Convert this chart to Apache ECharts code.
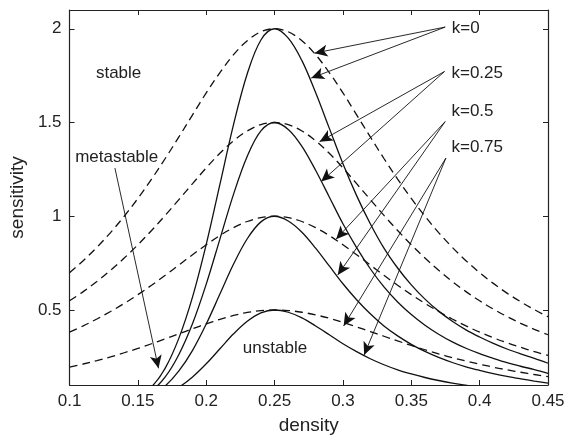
<!DOCTYPE html>
<html>
<head>
<meta charset="utf-8">
<script src="https://cdn.jsdelivr.net/npm/echarts@6/dist/echarts.min.js"></script>
<style>
html,body{margin:0;padding:0;background:#fff;}
#chart{width:578px;height:441px;}
</style>
</head>
<body>
<div id="chart"></div>
<script>
// ---- data ----
var xDashed = [0.10,0.11,0.12,0.13,0.14,0.15,0.16,0.17,0.18,0.19,0.20,0.21,0.22,0.23,0.24,0.25,0.26,0.27,0.28,0.29,0.30,0.31,0.32,0.33,0.34,0.35,0.36,0.37,0.38,0.39,0.40,0.41,0.42,0.43,0.44,0.45];
var dashedK0   = [0.699,0.763,0.834,0.913,1.000,1.095,1.198,1.308,1.423,1.541,1.658,1.766,1.862,1.936,1.984,2.000,1.984,1.936,1.862,1.766,1.658,1.541,1.423,1.308,1.198,1.095,1.000,0.913,0.834,0.763,0.699,0.642,0.590,0.544,0.502,0.464];
var dashedK025 = [0.549,0.598,0.652,0.712,0.777,0.848,0.924,1.005,1.089,1.174,1.258,1.336,1.403,1.455,1.489,1.500,1.489,1.455,1.403,1.336,1.258,1.174,1.089,1.005,0.924,0.848,0.777,0.712,0.652,0.598,0.549,0.505,0.465,0.429,0.397,0.368];
var dashedK05  = [0.382,0.415,0.452,0.492,0.535,0.582,0.632,0.685,0.740,0.795,0.848,0.897,0.939,0.972,0.993,1.000,0.993,0.972,0.939,0.897,0.848,0.795,0.740,0.685,0.632,0.582,0.535,0.492,0.452,0.415,0.382,0.352,0.325,0.301,0.278,0.258];
var dashedK075 = [0.195,0.212,0.230,0.250,0.272,0.295,0.320,0.346,0.373,0.400,0.426,0.450,0.471,0.487,0.497,0.500,0.497,0.488,0.474,0.456,0.434,0.410,0.385,0.360,0.335,0.311,0.288,0.266,0.246,0.228,0.211,0.195,0.181,0.168,0.156,0.145];

var xSolid = [0.15,0.16,0.17,0.18,0.19,0.20,0.21,0.22,0.23,0.24,0.25,0.26,0.27,0.28,0.29,0.30,0.31,0.32,0.33,0.34,0.35,0.36,0.37,0.38,0.39,0.40,0.41,0.42,0.43,0.44,0.45];
var solidK0   = [0.04,0.09,0.19,0.35,0.57,0.85,1.17,1.49,1.76,1.94,2.00,1.95,1.83,1.66,1.47,1.28,1.11,0.96,0.83,0.724,0.634,0.558,0.494,0.440,0.394,0.356,0.322,0.292,0.266,0.242,0.216];
var solidK025 = [0.03,0.068,0.143,0.263,0.428,0.638,0.878,1.118,1.32,1.455,1.50,1.463,1.373,1.245,1.103,0.96,0.833,0.72,0.623,0.543,0.476,0.419,0.371,0.330,0.296,0.267,0.242,0.219,0.200,0.182,0.162];
var solidK05  = [0.02,0.045,0.095,0.175,0.285,0.425,0.585,0.745,0.88,0.97,1.00,0.975,0.915,0.83,0.735,0.64,0.555,0.48,0.415,0.362,0.317,0.279,0.247,0.220,0.197,0.178,0.161,0.146,0.133,0.121,0.110];
var solidK075 = [0.01,0.023,0.048,0.088,0.143,0.213,0.293,0.373,0.44,0.485,0.50,0.488,0.458,0.415,0.368,0.32,0.278,0.24,0.208,0.181,0.159,0.140,0.124,0.110,0.099,0.089,0.081,0.073,0.067,0.061,0.055];

var xTicks = [0.1,0.15,0.2,0.25,0.3,0.35,0.4,0.45];
var yTicks = [0.5,1,1.5,2];

// annotation texts (left edge, middle) in data units
var annotations = [
  {name:'stable',     at:[0.1193,1.76]},
  {name:'metastable', at:[0.1041,1.315]},
  {name:'unstable',   at:[0.2268,0.296]},
  {name:'k=0',        at:[0.3796,2.0]},
  {name:'k=0.25',     at:[0.3794,1.76]},
  {name:'k=0.5',      at:[0.3794,1.559]},
  {name:'k=0.75',     at:[0.3794,1.367]}
];
// arrows: [from, to] in data units
var arrows = [
  [[0.3748,2.009],[0.2792,1.870]],
  [[0.3748,2.009],[0.2768,1.737]],
  [[0.3743,1.772],[0.2829,1.398]],
  [[0.3743,1.772],[0.2841,1.185]],
  [[0.3748,1.505],[0.2950,0.878]],
  [[0.3748,1.505],[0.2962,0.687]],
  [[0.3753,1.310],[0.3005,0.415]],
  [[0.3753,1.310],[0.3155,0.260]],
  [[0.1332,1.257],[0.1651,0.189]]
];

function zip(xs, ys){ return xs.map(function(x,i){ return [x, ys[i]]; }); }

var font = 'Liberation Sans, Arial, Helvetica, sans-serif';
var ink = '#111';

function curve(name, xs, ys, dashed){
  return {
    name: name, type:'line', data: zip(xs, ys), xAxisIndex:0, yAxisIndex:0,
    showSymbol:false, symbol:'none', smooth:0.35, clip:true, silent:true,
    lineStyle:{color:ink, width:1.3, type: dashed ? [8,5] : 'solid'}
  };
}

var series = [
  curve('dashed k=0', xDashed, dashedK0, true),
  curve('dashed k=0.25', xDashed, dashedK025, true),
  curve('dashed k=0.5', xDashed, dashedK05, true),
  curve('dashed k=0.75', xDashed, dashedK075, true),
  curve('solid k=0', xSolid, solidK0, false),
  curve('solid k=0.25', xSolid, solidK025, false),
  curve('solid k=0.5', xSolid, solidK05, false),
  curve('solid k=0.75', xSolid, solidK075, false)
];

series[7].markLine = {
  silent:true, animation:false,
  symbol:['none','arrow'], symbolSize:[9,13],
  label:{show:false},
  lineStyle:{color:ink, width:0.9, type:'solid'},
  emphasis:{disabled:true},
  data: arrows.map(function(a){ return [{coord:a[0]},{coord:a[1]}]; })
};
series[7].markPoint = {
  silent:true, animation:false,
  symbol:'circle', symbolSize:0,
  itemStyle:{color:'transparent'},
  label:{show:true, position:'right', distance:0, formatter:'{b}', color:'#222', fontSize:17, fontFamily:font},
  data: annotations.map(function(a){ return {name:a.name, coord:a.at}; })
};

var chart = echarts.init(document.getElementById('chart'), null, {renderer:'canvas'});
var axisLine = {show:true, lineStyle:{color:'#222', width:1.2}};
chart.setOption({
  animation:false,
  backgroundColor:'#fff',
  grid:{left:66, right:30, top:10, bottom:56, containLabel:false},
  xAxis:[{
    type:'value', min:0.1, max:0.45, interval:0.05, position:'bottom',
    name:'density', nameLocation:'middle', nameGap:31,
    nameTextStyle:{fontSize:19, color:'#222', fontFamily:font},
    axisLine:axisLine,
    axisTick:{show:true, inside:true, length:5, lineStyle:{color:'#222'}, customValues:xTicks},
    axisLabel:{color:'#222', fontSize:17, fontFamily:font, margin:8, customValues:xTicks,
      formatter:function(v){ return String(+v.toFixed(2)); }},
    splitLine:{show:false}
  },{
    type:'value', min:0.1, max:0.45, interval:0.05, position:'top',
    axisLine:axisLine,
    axisTick:{show:true, inside:true, length:5, lineStyle:{color:'#222'}, customValues:xTicks},
    axisLabel:{show:false}, splitLine:{show:false}
  }],
  yAxis:[{
    type:'value', min:0.1, max:2.1, position:'left',
    name:'sensitivity', nameLocation:'middle', nameGap:36, nameRotate:90,
    nameTextStyle:{fontSize:19, color:'#222', fontFamily:font},
    axisLine:axisLine,
    axisTick:{show:true, inside:true, length:5, lineStyle:{color:'#222'}, customValues:yTicks},
    axisLabel:{color:'#222', fontSize:17, fontFamily:font, margin:8, customValues:yTicks,
      formatter:function(v){ return String(+v.toFixed(2)); }},
    splitLine:{show:false}
  },{
    type:'value', min:0.1, max:2.1, position:'right',
    axisLine:axisLine,
    axisTick:{show:true, inside:true, length:5, lineStyle:{color:'#222'}, customValues:yTicks},
    axisLabel:{show:false}, splitLine:{show:false}
  }],
  series: series
});
</script>
</body>
</html>
